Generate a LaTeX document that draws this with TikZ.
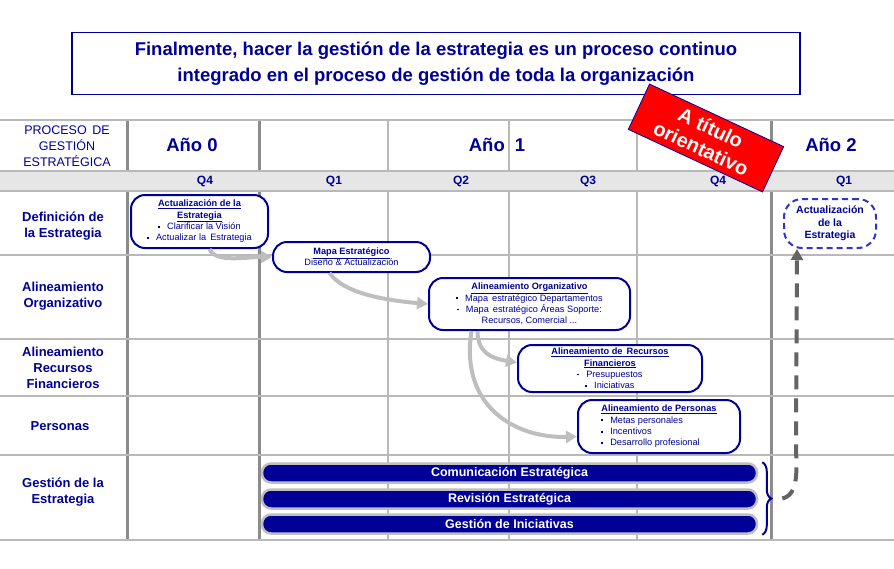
\documentclass[tikz,border=0pt]{standalone}
\usepackage{fontspec}
\setmainfont{Liberation Sans}
\usetikzlibrary{arrows.meta,decorations.pathreplacing,positioning}

\definecolor{navy}{RGB}{0,0,153}
\definecolor{gridgray}{RGB}{185,185,185}
\definecolor{yeargray}{RGB}{140,140,140}
\definecolor{bandgray}{RGB}{230,230,230}
\definecolor{flowgray}{RGB}{190,190,190}
\definecolor{loopgray}{RGB}{100,100,100}
\definecolor{dashblue}{RGB}{51,51,204}

\tikzset{
  gridline/.style={draw=gridgray,line width=1.5pt},
  yearline/.style={draw=yeargray,line width=3pt},
  headtext/.style={text=navy,font=\fontsize{18.5}{22}\selectfont\bfseries},
  rowtext/.style={text=navy,font=\fontsize{13}{16}\selectfont\bfseries,align=center},
  qtext/.style={text=navy,font=\fontsize{12}{14}\selectfont\bfseries},
  stagebox/.style={draw=navy,line width=2pt,rounded corners=14pt,fill=white,
    text=navy,font=\fontsize{9.2}{11.3}\selectfont,align=center,inner sep=0pt},
  bar/.style={draw=gray!50,line width=2.5pt,fill=navy,rounded corners=9pt,
    text=white,font=\fontsize{12.5}{14}\selectfont\bfseries,
    minimum width=495pt,minimum height=19pt,inner sep=0pt},
  flow/.style={draw=flowgray,line width=4pt,-{Triangle[length=11pt,width=12pt]}},
}
\newcommand{\sq}{\raisebox{2pt}{\rule{1.8pt}{1.8pt}}\hspace{7pt}}
\newcommand{\ttl}[1]{\underline{\textbf{#1}}}

\begin{document}
\begin{tikzpicture}[x=1pt,y=-1pt]
  \useasboundingbox (0,0) rectangle (894,568);

  \node[draw=navy,line width=1.2pt,minimum width=728pt,minimum height=62pt,
    text=navy,font=\fontsize{18.5}{26}\selectfont\bfseries,align=center]
    (title) at (436,63.5)
    {Finalmente, hacer la gestión de la estrategia es un proceso continuo\\
     integrado en el proceso de gestión de toda la organización};

  \foreach \x in {388,509,637}
    \draw[gridline] (\x,120) -- (\x,540);
  \foreach \x in {127,259,771}
    \draw[yearline] (\x,120) -- (\x,540);
  \fill[bandgray] (0,171) rectangle (894,191);
  \foreach \y in {120,171,191,255,339,396,455,540}
    \draw[gridline] (0,\y) -- (894,\y);

  \node[text=navy,font=\fontsize{12.5}{16}\selectfont,align=center] (proc) at (67,146)
    {PROCESO\, DE\\GESTIÓN\\ESTRATÉGICA};
  \node[headtext] (y0) at (192,145) {Año 0};
  \node[headtext] (y1) at (497,145) {Año\hspace{10pt}1};
  \node[headtext] (y2) at (831,145) {Año 2};
  \foreach \x/\q in {205/Q4,334/Q1,461/Q2,588/Q3,718/Q4,844/Q1}
    \node[qtext] at (\x,181) {\q};

  \node[rowtext] (def) at (63,226) {Definición de\\la Estrategia};
  \node[rowtext] (alo) at (63,296) {Alineamiento\\Organizativo};
  \node[rowtext] (alr) at (63,368) {Alineamiento\\Recursos\\Financieros};
  \node[rowtext] (pers) at (60,426) {Personas};
  \node[rowtext] (gest) at (63,492) {Gestión de la\\Estrategia};

  \node[stagebox,minimum width=137pt,minimum height=53pt] (act) at (199.5,221.5)
    {\ttl{Actualización de la}\\\ttl{Estrategia}\\
     \sq Clarificar la Visión\\\sq Actualizar la\, Estrategia};
  \node[stagebox,minimum width=157pt,minimum height=30pt] (mapa) at (351.5,257)
    {\ttl{Mapa Estratégico}\\Diseño \& Actualización};
  \node[stagebox,minimum width=201pt,minimum height=52pt] (org) at (529.5,304)
    {\ttl{Alineamiento Organizativo}\\\sq Mapa\, estratégico Departamentos\\
     \sq Mapa\, estratégico Áreas Soporte:\\Recursos, Comercial ...};
  \node[stagebox,minimum width=184pt,minimum height=47pt] (rec) at (610,368.5)
    {\ttl{Alineamiento de\, Recursos}\\\ttl{Financieros}\\
     \sq Presupuestos\\\sq Iniciativas};
  \node[stagebox,minimum width=162pt,minimum height=53pt,align=left] (per) at (659,426.5)
    {\ttl{Alineamiento de Personas}\\\sq Metas personales\\
     \sq Incentivos\\\sq Desarrollo profesional};
  \node[draw=dashblue,line width=2pt,dash pattern=on 6pt off 4pt,rounded corners=18pt,
    minimum width=92pt,minimum height=49pt,inner sep=0pt,text=navy,align=center,
    font=\fontsize{10.5}{12.5}\selectfont\bfseries] (upd) at (830,223.5)
    {Actualización\\de la\\Estrategia};

  \draw[flow] ([xshift=10pt]act.south) .. controls +(6,14) and +(-28,0) .. (mapa.west);
  \draw[flow] ([xshift=-22pt]mapa.south) .. controls +(14,20) and +(-45,-4) .. (org.west);
  \draw[flow] ([xshift=-52pt]org.south) .. controls +(0,22) and +(-25,-4) .. ([yshift=6pt]rec.west);
  \draw[flow] ([xshift=-58pt]org.south) .. controls +(-12,75) and +(-62,2) .. ([yshift=-10pt]per.west);

  \node[bar] (com) at (509.5,473) {Comunicación Estratégica};
  \node[bar] (rev) at (509.5,499) {Revisión Estratégica};
  \node[bar] (gin) at (509.5,524) {Gestión de Iniciativas};

  \draw[navy,line width=2pt,decorate,decoration={brace,amplitude=9pt}]
    ([xshift=4pt]com.north east) -- ([xshift=4pt]gin.south east)
    coordinate[pos=0.5,xshift=20pt] (loop);
  \draw[loopgray,line width=4pt,dash pattern=on 14pt off 9pt,
    -{Triangle[length=11pt,width=12pt]}]
    (loop) .. controls +(18,-4) and +(0,20) .. (796,445) -- ([xshift=-33pt]upd.south);

  \node[rotate=-25,fill=red,draw=navy,line width=0.8pt,minimum width=148pt,
    minimum height=50pt,inner sep=0pt,text=white,align=center,
    font=\fontsize{20}{23}\selectfont\bfseries] (hint) at (706,138)
    {A título\\orientativo};
\end{tikzpicture}
\end{document}
